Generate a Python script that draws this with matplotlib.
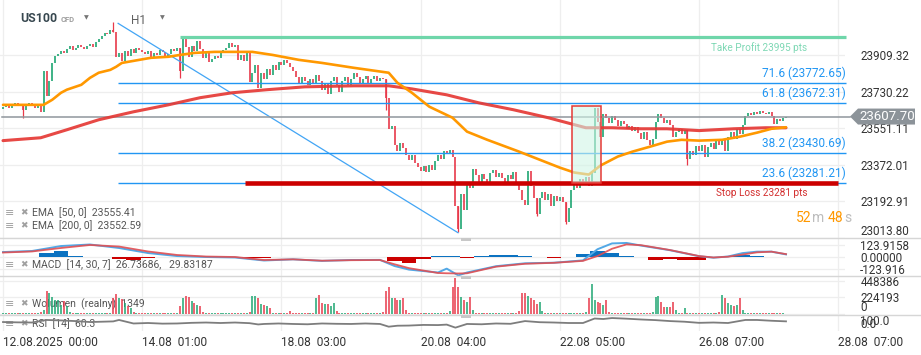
import numpy as np
import matplotlib
matplotlib.use("Agg")
import matplotlib.pyplot as plt
from matplotlib.patches import Polygon, Rectangle
from matplotlib.lines import Line2D
from matplotlib.transforms import blended_transform_factory

# ---------------- data ----------------
closes = [
    23655, 23668, 23650, 23662, 23672, 23660, 23668, 23640, 23660, 23672,
    23665, 23650, 23658, 23632, 23830, 23710, 23780, 23870, 23905, 23915,
    23930, 23920, 23940, 23952, 23935, 23945, 23960, 23950, 23940, 23955,
    23962, 23950, 23970, 23985, 24000, 24015, 24010, 24030, 24020, 23900,
    23920, 23880, 23930, 23905, 23940, 23920, 23945, 23935, 23925, 23915,
    23930, 23900, 23920, 23910, 23935, 23925, 23905, 23915, 23940, 23930,
    23945, 23830, 23990, 23950, 23900, 23955, 23930, 23975, 23940, 23895,
    23920, 23875, 23890, 23905, 23895, 23920, 23935, 23945, 23965, 23950,
    23960, 23885, 23910, 23880, 23930, 23778, 23820, 23860, 23745, 23820,
    23790, 23840, 23810, 23860, 23835, 23875, 23860, 23885, 23870, 23850,
    23830, 23800, 23770, 23800, 23780, 23760, 23790, 23770, 23810, 23780,
    23740, 23770, 23720, 23780, 23800, 23760, 23730, 23780, 23800, 23760,
    23790, 23820, 23800, 23770, 23790, 23805, 23770, 23790, 23805, 23780,
    23795, 23790, 23700, 23545, 23560, 23470, 23440, 23480, 23455, 23420,
    23395, 23420, 23380, 23360, 23340, 23365, 23335, 23370, 23345, 23390,
    23420, 23400, 23440, 23430, 23445, 23410, 23170, 23060, 23230, 23150,
    23290, 23260, 23350, 23320, 23290, 23325, 23300, 23280, 23330, 23345,
    23310, 23330, 23305, 23290, 23320, 23300, 23335, 23285, 23250, 23200,
    23175, 23340, 23270, 23210, 23130, 23210, 23240, 23200, 23230, 23170,
    23220, 23195, 23215, 23190, 23090, 23160, 23250, 23285, 23260, 23300,
    23280, 23310, 23270, 23330, 23650, 23580, 23510, 23620, 23600, 23575,
    23610, 23590, 23560, 23585, 23570, 23545, 23560, 23535, 23555, 23525,
    23500, 23530, 23495, 23470, 23500, 23580, 23620, 23600, 23575, 23590,
    23565, 23510, 23530, 23545, 23520, 23540, 23400, 23440, 23420, 23465,
    23440, 23470, 23410, 23460, 23480, 23450, 23490, 23470, 23500, 23440,
    23510, 23530, 23500, 23545, 23520, 23565, 23610, 23625, 23615, 23630,
    23620, 23635, 23625, 23620, 23630, 23610, 23570, 23595, 23585, 23600,
    23607.70,
]
open_first = 23645
wick_idx = [7, 38, 61, 132, 157, 184, 194, 236]
wick_high = [23668, 24070, 23945, 23790, 23170, 23210, 23190, 23540]
wick_low = [23602, 24020, 23797, 23640, 23041, 23120, 23080, 23370]

ema50_idx = [0, 14, 17, 20, 22, 27, 30, 33, 37, 39, 41, 45, 51, 57, 61, 66, 73, 86, 93, 102,
             110, 121, 133, 136, 141, 147, 155, 160, 167, 178, 185, 192, 197, 202, 206, 212,
             217, 223, 229, 234, 240, 248, 254, 260, 265, 270]
ema50_val = [23665, 23665, 23690, 23724, 23739, 23763, 23797, 23822, 23836, 23851,
             23870, 23880, 23895, 23900, 23909, 23919, 23924, 23924, 23909, 23885,
             23870, 23846, 23822, 23773, 23724, 23656, 23602, 23534, 23494, 23436,
             23397, 23358, 23334, 23324, 23368, 23412, 23436, 23460, 23485, 23494,
             23490, 23494, 23509, 23529, 23548, 23555.41]
ema200_idx = [0, 13, 22, 33, 45, 57, 68, 79, 91, 104, 121, 133, 141, 153, 164, 176, 188, 197,
              201, 210, 220, 229, 240, 252, 263, 270]
ema200_val = [23490, 23504, 23543, 23592, 23631, 23665, 23700, 23724, 23739, 23753,
              23758, 23758, 23743, 23714, 23675, 23641, 23602, 23568, 23553, 23553,
              23548, 23548, 23539, 23548, 23553, 23552.59]

macd_idx = [0, 10, 20, 30, 40, 50, 60, 70, 80, 90, 100, 110, 120, 130, 135, 140, 150, 153,
            157, 160, 170, 180, 190, 200, 205, 210, 215, 220, 230, 240, 245, 250, 255, 260,
            265, 270]
macd_line = [51, 62, 113, 129, 93, 41, 10, 0, -5, -36, -24, -40, -31, -30, -93, -130, -160,
             -120, -190, -160, -95, -65, -59, -35, 80, 140, 145, 118, 70, 8, -7, 5, 40, 55,
             55, 26.74]
signal_line = [46, 57, 93, 124, 108, 57, 21, 5, 0, -31, -24, -38, -33, -31, -75, -115, -165,
               -168, -170, -168, -100, -70, -60, -40, 10, 85, 130, 122, 72, 10, -5, 3, 25,
               48, 55, 29.83]
hist_idx = list(range(0, 271, 5))
hist_val = [5, 5, 5, 45, 65, 15, 5, 0, -20, -30,
            -15, -5, -3, -3, -3, 0, 0, -10, -8, 3,
            5, 0, -5, 3, 3, 0, -5, -40, -65, -20,
            10, 10, -15, 10, 18, 18, 10, -5, -8, 3,
            30, 65, 40, 15, -5, -30, -20, -35, -30, -5,
            15, 18, 15, 5, 3]

volume_k = [
    12, 10, 14, 11, 13, 9, 12, 15, 11, 10, 13, 12, 14, 25,
    60, 316, 285, 225, 193, 193, 126, 171, 104, 30,
    14, 12, 10, 13, 11, 12, 15, 10, 12, 14, 11, 13, 12, 16,
    217, 275, 217, 200, 150, 104, 80, 25,
    14, 12, 11, 13, 10, 12, 14, 12, 11, 13, 10, 12, 15, 13, 20,
    104, 217, 240, 231, 171, 150, 126, 104, 25,
    12, 14, 11, 10, 13, 12, 11, 14, 12, 10, 13, 11, 12, 14, 13, 25,
    245, 245, 217, 140, 126, 104, 80, 20,
    12, 11, 13, 10, 14, 36, 12, 11, 13, 10, 12, 14, 11, 20,
    213, 258, 145, 141, 130, 115, 150, 40,
    12, 13, 11, 10, 14, 12, 11, 13, 12, 10, 14, 11, 12, 13, 15, 30,
    312, 371, 222, 222, 190, 190, 222, 54,
    13, 11, 12, 14, 10, 12, 13, 11, 14, 12, 13, 11, 12, 18, 40,
    371, 493, 360, 235, 190, 160, 235, 54,
    12, 14, 11, 13, 10, 12, 14, 11, 13, 12, 10, 14, 12, 11, 13, 40,
    281, 281, 250, 213, 190, 136, 168, 40,
    12, 13, 11, 10, 14, 12, 11, 13, 12, 14, 10, 12, 13, 11, 30,
    213, 404, 190, 168, 145, 122, 190, 30,
    12, 11, 13, 14, 10, 12, 13, 11, 12, 14, 10, 13, 12, 11, 25,
    235, 245, 168, 100, 100, 100, 168, 54,
    14, 12, 86, 13,
    11, 12, 14, 10, 13, 12, 11, 14, 12, 13, 25,
    258, 222, 145, 122, 115, 122, 222, 54,
    13, 11, 12, 14, 10, 12, 13, 11, 12, 14, 11, 13, 12, 10, 1.349,
]

rsi_idx = [0, 5, 10, 15, 20, 25, 30, 38, 40, 45, 50, 55, 60, 65, 70, 75, 80, 85, 88, 90,
           95, 100, 105, 110, 115, 120, 125, 130, 133, 136, 140, 145, 150, 153, 156, 160,
           165, 170, 175, 180, 185, 190, 195, 200, 204, 207, 210, 215, 220, 225, 230, 235,
           240, 245, 250, 256, 260, 265, 270]
rsi_val = [56, 54, 53, 69, 66, 62, 56, 60, 69, 47, 50, 46, 47, 51, 53, 50, 53, 49, 41, 44,
           47, 44, 42, 47, 45, 44, 47, 44, 27, 33, 34, 38, 37, 40, 21, 44,
           42, 47, 45, 62, 55, 53, 50, 50, 78, 75, 81, 77, 72, 68, 62, 58,
           51, 53, 50, 69, 69, 64, 60.3]

price_ticks = [23013.80, 23192.91, 23372.01, 23551.11, 23730.22, 23909.32]
macd_ticks = [-123.916, 0.0, 123.9158]
macd_tick_labels = ["-123.916", "0.00000", "123.9158"]
vol_ticks = [0, 224193, 448386]
date_idx = [0, 48, 96, 144, 192, 240, 288]
date_labels = ["12.08.2025  00:00", "14.08  01:00", "18.08  03:00", "20.08  04:00",
               "22.08  05:00", "26.08  07:00", "28.08  07:00"]

fib_high = 24063.4
fib_low = 23039.6
fib_start_idx = 39.7
fib_end_idx = 156.9
fib_ratios = ["23.6", "38.2", "61.8", "71.6"]
fib_prices = [23281.21, 23430.69, 23672.31, 23772.65]
take_profit = 23995
tp_start_idx = 61
stop_loss = 23281
sl_start_idx = 83.4
box_x0, box_x1 = 196.2, 206.2
box_lo, box_hi = 23285, 23660

# ---------------- figure ----------------
plt.rcParams['font.family'] = ['Roboto', 'DejaVu Sans']
W, H = 921, 355
fig = plt.figure(figsize=(W / 100, H / 100), dpi=100)
fig.patch.set_facecolor('white')

AXR = 845


def rect(top, bottom, left=0, right=AXR):
    return [left / W, 1 - bottom / H, (right - left) / W, (bottom - top) / H]


ax = fig.add_axes(rect(0, 238))
axm = fig.add_axes(rect(238, 276), sharex=ax)
axv = fig.add_axes(rect(276, 315), sharex=ax)
axr = fig.add_axes(rect(315, 331), sharex=ax)

DX, X0 = 2.9, 3
ax.set_xlim(-X0 / DX, (AXR - X0) / DX)
XEND = (AXR - 2) / DX

GRID = '#eeeeee'
for a in (ax, axm, axv, axr):
    for s in a.spines.values():
        s.set_visible(False)
    a.set_facecolor('none')
    a.yaxis.tick_right()
    a.tick_params(axis='y', length=0, pad=11, labelsize=8.4, labelcolor='#333333')
    a.tick_params(axis='x', length=0, labelbottom=False)
    a.grid(True, color=GRID, lw=0.9)
    a.set_axisbelow(True)

ax.set_xticks(date_idx)
axr.set_xticklabels(date_labels, ha='left')
axr.tick_params(axis='x', labelbottom=True, pad=3.5, labelsize=8.6, labelcolor='#333333')

GREEN = '#1ea672'
RED = '#e8394a'

# ---------- main price panel ----------
ax.set_ylim(23013.8, 24177.7)
ax.set_yticks(price_ticks, [f"{v:.2f}" for v in price_ticks])
ax.get_yticklabels()[0].set_va('bottom')

c = np.array(closes, float)
n = len(c)
xi = np.arange(n)
o = np.concatenate([[open_first], c[:-1]])
up = c >= o
ccol = np.where(up, GREEN, RED)
for k, (lo_, hi_) in enumerate(zip(wick_low, wick_high)):
    i = wick_idx[k]
    ax.vlines(i, lo_, hi_, colors=ccol[i], lw=0.9, zorder=2)
ax.vlines(xi, np.minimum(o, c), np.maximum(o, c), colors=ccol, lw=1.2, zorder=2)

ax.plot(ema200_idx, ema200_val, color='#e53935', lw=2.2, zorder=3, alpha=0.92,
        solid_capstyle='round')
ax.plot(ema50_idx, ema50_val, color='#ff9800', lw=1.9, zorder=3, solid_capstyle='round')

# current price line
last = c[-1]
ax.plot([-0.3, (850 - X0) / DX], [last, last], color='#8f969c', lw=1.1, zorder=2.6,
        clip_on=False)

# fibonacci
ax.plot([fib_start_idx, fib_end_idx], [fib_high, fib_low], color='#42a5f5', lw=0.9, zorder=2.5)
for r, p in zip(fib_ratios, fib_prices):
    ax.plot([fib_start_idx, XEND], [p, p], color='#2196f3', lw=1.0, zorder=2.5,
            solid_capstyle='butt', clip_on=False)
    ax.annotate(f"{r} ({p:.2f})", (XEND, p), xytext=(0, 2.2), textcoords='offset points',
                ha='right', va='bottom', color='#2196f3', fontsize=8.5, zorder=5,
                annotation_clip=False)

# TP / SL
ax.plot([tp_start_idx, XEND], [take_profit, take_profit], color='#6fd6aa', lw=2.3,
        solid_capstyle='butt', zorder=4, clip_on=False)
ax.annotate(f"Take Profit {take_profit} pts", ((807 - X0) / DX, take_profit), xytext=(0, -3.5),
            textcoords='offset points', ha='right', va='top', color='#7fd8b5', fontsize=7.2)
ax.plot([sl_start_idx, (838 - X0) / DX], [stop_loss, stop_loss], color='#cc0000', lw=3.3,
        solid_capstyle='butt', zorder=4)
ax.annotate(f"Stop Loss {stop_loss} pts", ((807 - X0) / DX, stop_loss), xytext=(0, -3.5),
            textcoords='offset points', ha='right', va='top', color='#d32f2f', fontsize=7.2)

# position box
ax.add_patch(Rectangle((box_x0, box_lo), box_x1 - box_x0, box_hi - box_lo,
                       facecolor=(0.82, 0.96, 0.90, 0.6), edgecolor='#e53935', lw=1.1,
                       zorder=6))

# price tag
bt = blended_transform_factory(fig.transFigure, ax.transData)
half = 8 * (24177.7 - 23013.8) / 238
tag = Polygon([(850 / W, last), (858 / W, last + half), (915 / W, last + half),
               (915 / W, last - half), (858 / W, last - half)], closed=True,
              transform=bt, facecolor='#8c9399', edgecolor='none', zorder=3)
fig.add_artist(tag)
fig.text(887 / W, last, f"{last:.2f}", transform=bt, ha='center', va='center',
         color='white', fontsize=9.5, zorder=4)

# countdown
for xx, s, colr in [(796, "52", '#ff9800'), (812, "m", '#bdbdbd'), (828, "48", '#ff9800'),
                    (844, "s", '#bdbdbd')]:
    fig.text(xx / W, 1 - 218 / H, s, ha='left', va='center', color=colr, fontsize=10)

# header
fig.text(20 / W, 1 - 18.5 / H, "US100", ha='left', va='center', fontsize=8.8,
         fontweight='bold', color='#37474f')
fig.text(61 / W, 1 - 19 / H, "CFD", ha='left', va='center', fontsize=5.5,
         fontweight='bold', color='#9e9e9e')
fig.text(131 / W, 1 - 20.5 / H, "H1", ha='left', va='center', fontsize=8.5, color='#616161')
for xx, yy in [(86.5, 17.5), (162.5, 18)]:
    fig.text(xx / W, 1 - yy / H, "▼", ha='center', va='center', fontsize=4.5,
             color='#757575', family=['DejaVu Sans'])

# ---------- MACD ----------
axm.set_ylim(-196, 196)
axm.set_yticks(macd_ticks, macd_tick_labels)
hcol = ['#0b72c1' if v >= 0 else '#cc0000' for v in hist_val]
axm.bar(hist_idx, hist_val, width=5, color=hcol, lw=0, zorder=2)
axm.plot(macd_idx, macd_line, color='#52a8e6', lw=1.4, zorder=3)
axm.plot(macd_idx, signal_line, color='#e04e52', lw=1.3, zorder=3, alpha=0.9)

# ---------- volume ----------
vol = np.array(volume_k, float) * 1000
xv = np.arange(len(vol))
vcol = [ccol[i] if i < n else GREEN for i in xv]
axv.set_ylim(-13600, 516000)
axv.set_yticks(vol_ticks, [str(v) for v in vol_ticks])
axv.get_yticklabels()[0].set_va('bottom')
axv.vlines(xv, 0, vol, colors=vcol, lw=1.1, zorder=2)

# ---------- RSI ----------
axr.set_ylim(0, 100)
axr.set_yticks([0, 100], ["0.0", "100.0"])
axr.grid(axis='y', visible=False)
labs = axr.get_yticklabels()
labs[0].set_va('bottom')
labs[1].set_va('top')
axr.plot(rsi_idx, rsi_val, color='#7d7d7d', lw=1.3, zorder=3)

# ---------- indicator legends ----------
def legend_row(a, y, s):
    kw = dict(transform=fig.transFigure, va='center', ha='left', clip_on=False, zorder=1)
    a.text(5 / W, 1 - y / H, "≡", fontsize=8, color='#a0a0a0', family=['DejaVu Sans'], **kw)
    a.text(20 / W, 1 - y / H, "✖", fontsize=6.5, color='#a0a0a0', family=['DejaVu Sans'], **kw)
    a.text(32 / W, 1 - y / H, s, fontsize=7.5, color='#555555', **kw)


legend_row(ax, 213, "EMA  [50, 0]  23555.41")
legend_row(ax, 226, "EMA  [200, 0]  23552.59")
legend_row(axm, 265, "MACD  [14, 30, 7]  26.73686,   29.83187")
legend_row(axv, 304, "Wolumen  (realny)  1349")
legend_row(axr, 324, "RSI  [14]  60.3")

# panel separators and handles
for yy in (238, 276, 315):
    fig.add_artist(Line2D([0, 1], [1 - yy / H] * 2, transform=fig.transFigure,
                          color='#d6d6d6', lw=1.0, zorder=2))
    fig.add_artist(Rectangle((461 / W, 1 - (yy + 2.5) / H), 10 / W, 2.5 / H,
                             transform=fig.transFigure, facecolor='#c8c8c8',
                             edgecolor='none', zorder=2))

fig.savefig("out.png", dpi=100, facecolor='white')
